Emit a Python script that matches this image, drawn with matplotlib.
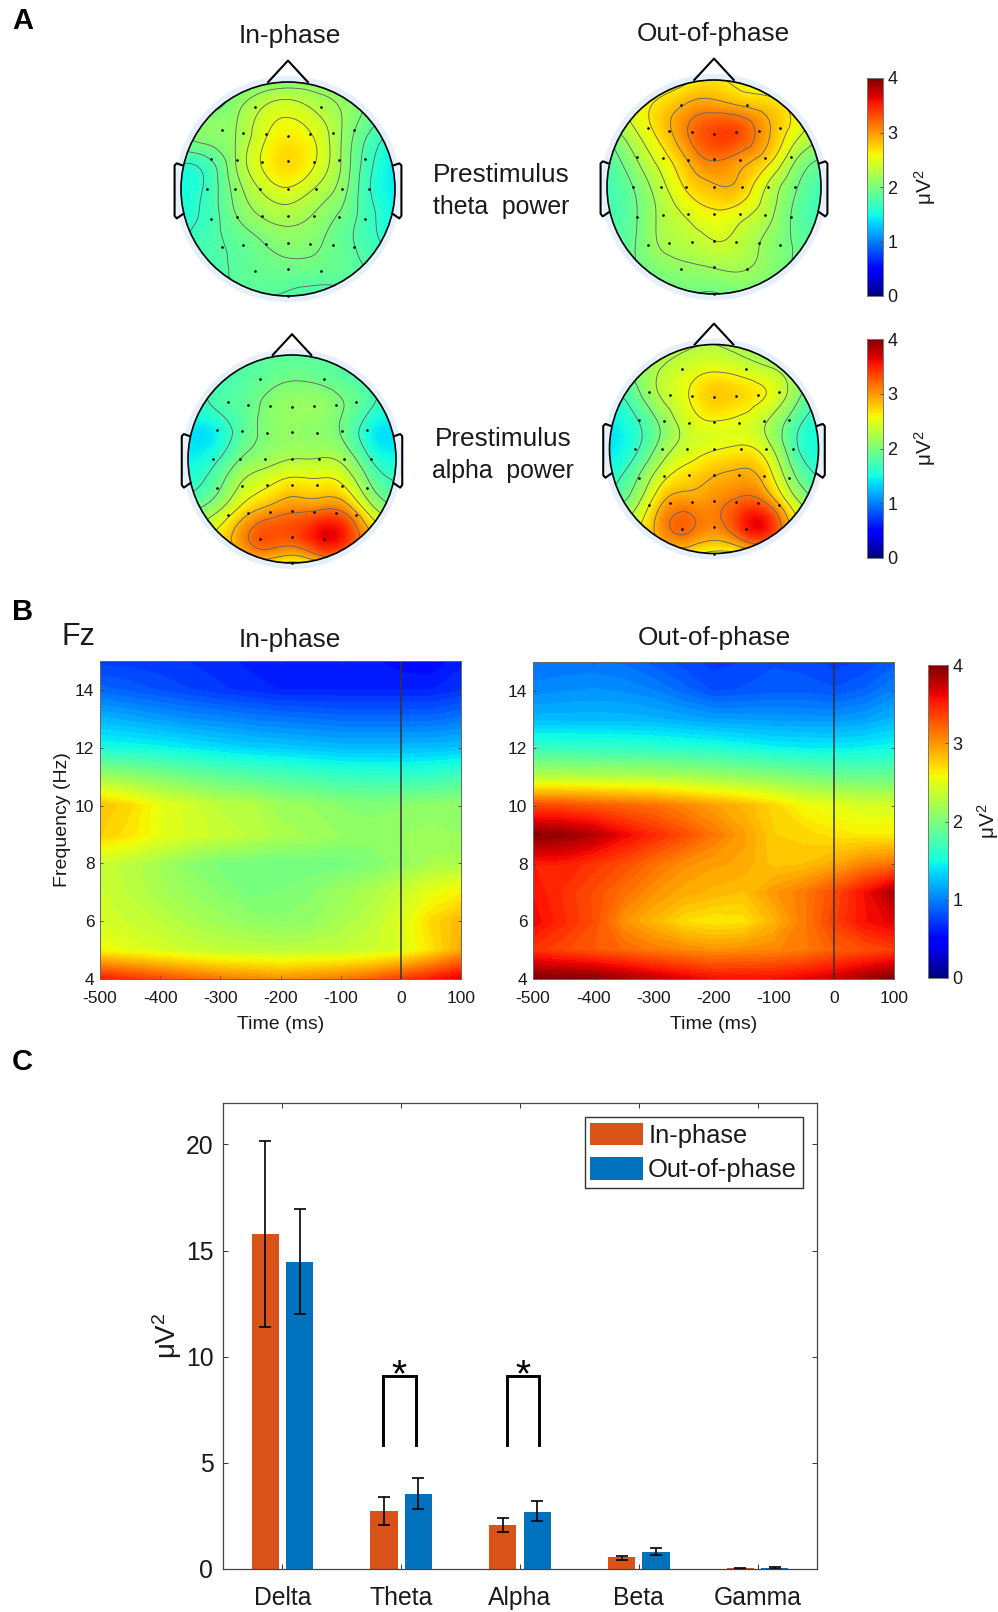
import numpy as np
import matplotlib
matplotlib.use("Agg")
import matplotlib.pyplot as plt
import matplotlib.tri as mtri
from matplotlib.cm import ScalarMappable
from matplotlib.colors import Normalize
from matplotlib.patches import Circle

plt.rcParams['font.family'] = ['Liberation Sans', 'DejaVu Sans']
plt.rcParams['mathtext.fontset'] = 'custom'
plt.rcParams['mathtext.rm'] = 'Liberation Sans'
plt.rcParams['mathtext.default'] = 'regular'
plt.rcParams['axes.unicode_minus'] = False

W, H = 998, 1612
UNIT = 'μV$^{2}$'
TEXT = '#1a1a1a'

# topomap values in μV², rows from the front of the head to the back
# nodes are at -1 ... 1 in steps of 0.25 in head coordinates
TOPO_GRID = [-1, -0.75, -0.5, -0.25, 0, 0.25, 0.5, 0.75, 1]

THETA_IN = [
    [1.80, 1.80, 1.90, 2.00, 2.05, 2.05, 2.00, 1.85, 1.70],
    [1.90, 1.95, 2.10, 2.34, 2.45, 2.32, 2.15, 1.95, 1.75],
    [2.00, 2.08, 2.15, 2.46, 2.62, 2.50, 2.16, 1.80, 1.55],
    [1.65, 1.75, 2.14, 2.53, 2.72, 2.53, 2.15, 1.70, 1.42],
    [1.50, 1.68, 2.05, 2.36, 2.50, 2.33, 2.08, 1.66, 1.42],
    [1.55, 1.70, 1.97, 2.17, 2.24, 2.14, 1.95, 1.70, 1.45],
    [1.60, 1.75, 1.85, 1.98, 2.07, 2.03, 1.88, 1.72, 1.50],
    [1.70, 1.75, 1.83, 1.90, 1.93, 1.92, 1.87, 1.80, 1.70],
    [1.75, 1.75, 1.80, 1.82, 1.78, 1.72, 1.75, 1.75, 1.75],
]
THETA_OUT = [
    [2.30, 2.35, 2.45, 2.60, 2.68, 2.55, 2.42, 2.30, 2.20],
    [2.35, 2.50, 2.72, 2.93, 3.00, 2.90, 2.78, 2.55, 2.30],
    [2.00, 2.35, 2.72, 3.10, 3.35, 3.30, 2.92, 2.52, 2.20],
    [1.78, 2.12, 2.50, 2.88, 3.12, 2.98, 2.72, 2.20, 1.92],
    [1.72, 1.95, 2.32, 2.68, 2.85, 2.80, 2.38, 1.98, 1.72],
    [1.72, 1.90, 2.22, 2.45, 2.60, 2.50, 2.25, 1.90, 1.70],
    [1.80, 1.92, 2.20, 2.30, 2.41, 2.32, 2.12, 1.92, 1.75],
    [1.85, 1.92, 2.05, 2.13, 2.18, 2.20, 2.08, 1.92, 1.80],
    [1.90, 1.90, 1.92, 1.95, 1.92, 1.98, 1.92, 1.90, 1.85],
]
ALPHA_IN = [
    [1.75, 1.80, 1.85, 1.85, 1.85, 1.85, 1.85, 1.80, 1.75],
    [1.60, 1.70, 1.80, 1.90, 1.98, 1.95, 1.85, 1.72, 1.60],
    [1.50, 1.70, 1.83, 2.03, 2.13, 2.12, 1.98, 1.72, 1.50],
    [1.42, 1.45, 1.80, 2.03, 2.12, 2.08, 1.93, 1.50, 1.42],
    [1.45, 1.62, 1.98, 2.15, 2.27, 2.28, 2.18, 1.70, 1.50],
    [1.60, 1.85, 2.28, 2.52, 2.68, 2.65, 2.55, 2.00, 1.72],
    [1.90, 2.20, 2.65, 2.95, 3.10, 3.16, 3.10, 2.45, 2.00],
    [2.20, 2.60, 3.00, 3.30, 3.30, 3.58, 3.50, 2.90, 2.40],
    [2.40, 2.50, 2.60, 2.70, 2.50, 2.75, 2.85, 2.80, 2.60],
]
ALPHA_OUT = [
    [2.15, 2.15, 2.20, 2.25, 2.28, 2.20, 2.10, 2.05, 2.00],
    [1.90, 2.05, 2.30, 2.45, 2.55, 2.48, 2.35, 2.15, 1.95],
    [1.60, 1.88, 2.30, 2.56, 2.78, 2.72, 2.56, 2.15, 1.72],
    [1.42, 1.65, 2.05, 2.42, 2.55, 2.50, 2.28, 1.85, 1.55],
    [1.42, 1.65, 2.12, 2.42, 2.55, 2.62, 2.42, 1.82, 1.52],
    [1.55, 1.92, 2.45, 2.70, 2.85, 2.92, 2.72, 2.05, 1.68],
    [1.85, 2.18, 2.82, 3.00, 3.04, 3.22, 3.10, 2.42, 1.95],
    [2.20, 2.50, 3.02, 3.20, 3.06, 3.40, 3.55, 2.80, 2.35],
    [2.50, 2.60, 2.70, 2.65, 2.50, 2.55, 2.70, 2.70, 2.50],
]
THETA_IN_LEVELS = [1.63, 1.81, 1.99, 2.16, 2.34, 2.52]
THETA_OUT_LEVELS = [1.94, 2.17, 2.41, 2.64, 2.88, 3.11]
ALPHA_IN_LEVELS = [1.69, 1.98, 2.27, 2.56, 2.85, 3.14]
ALPHA_OUT_LEVELS = [1.70, 1.99, 2.28, 2.57, 2.86, 3.15]

# electrode sites in head coordinates
ELEC_X = [-0.31, 0.31,
          -0.62, -0.42, -0.21, 0, 0.21, 0.42, 0.62,
          -0.72, -0.48, -0.24, 0, 0.24, 0.48, 0.72,
          -0.76, -0.50, -0.26, 0, 0.26, 0.50, 0.76,
          -0.72, -0.48, -0.24, 0, 0.24, 0.48, 0.72,
          -0.62, -0.42, -0.21, 0, 0.21, 0.42, 0.62,
          -0.31, 0, 0.31, 0]
ELEC_Y = [0.77, 0.77,
          0.55, 0.52, 0.51, 0.50, 0.51, 0.52, 0.55,
          0.28, 0.27, 0.25, 0.26, 0.25, 0.27, 0.28,
          0, 0, 0, 0, 0, 0, 0,
          -0.28, -0.26, -0.25, -0.25, -0.25, -0.26, -0.28,
          -0.54, -0.52, -0.51, -0.50, -0.51, -0.52, -0.54,
          -0.77, -0.75, -0.77, -1.0]

# time-frequency power at Fz in μV²
TF_TIMES = [-500, -450, -400, -350, -300, -250, -200, -150, -100, -50, 0, 50, 100]
TF_FREQS = [15, 14, 13, 12, 11, 10, 9, 8, 7, 6, 5, 4]
TF_IN = [
    [0.72, 0.72, 0.70, 0.68, 0.65, 0.60, 0.57, 0.60, 0.62, 0.58, 0.52, 0.50, 0.60],
    [0.90, 0.85, 0.80, 0.75, 0.70, 0.66, 0.62, 0.62, 0.62, 0.62, 0.62, 0.62, 0.68],
    [1.20, 1.15, 1.10, 1.05, 1.02, 0.98, 0.95, 0.93, 0.90, 0.90, 0.90, 0.90, 0.95],
    [1.50, 1.48, 1.45, 1.40, 1.35, 1.30, 1.28, 1.25, 1.22, 1.22, 1.22, 1.23, 1.25],
    [2.15, 2.08, 2.00, 1.92, 1.85, 1.80, 1.75, 1.70, 1.65, 1.63, 1.62, 1.65, 1.70],
    [2.80, 2.70, 2.50, 2.40, 2.30, 2.27, 2.15, 2.12, 2.05, 2.03, 2.05, 2.08, 2.10],
    [2.75, 2.65, 2.50, 2.42, 2.35, 2.30, 2.22, 2.18, 2.12, 2.10, 2.12, 2.15, 2.12],
    [2.35, 2.28, 2.18, 2.05, 1.98, 1.95, 1.93, 1.95, 1.95, 2.00, 2.10, 2.20, 2.22],
    [2.38, 2.30, 2.20, 2.12, 2.05, 1.97, 2.00, 2.05, 2.15, 2.22, 2.35, 2.50, 2.60],
    [2.42, 2.36, 2.30, 2.22, 2.15, 2.10, 2.07, 2.10, 2.20, 2.30, 2.45, 2.70, 2.85],
    [2.55, 2.48, 2.42, 2.36, 2.32, 2.30, 2.28, 2.30, 2.32, 2.36, 2.45, 2.65, 2.90],
    [3.50, 3.40, 3.30, 3.20, 3.10, 3.05, 3.00, 3.05, 3.10, 3.20, 3.35, 3.50, 3.65],
]
TF_OUT = [
    [0.95, 0.95, 0.95, 0.92, 0.85, 0.78, 0.72, 0.75, 0.80, 0.78, 0.72, 0.75, 0.85],
    [1.02, 1.05, 1.07, 1.05, 1.00, 0.90, 0.80, 0.82, 0.85, 0.85, 0.82, 0.88, 1.00],
    [1.22, 1.22, 1.22, 1.22, 1.20, 1.16, 1.12, 1.11, 1.10, 1.09, 1.08, 1.12, 1.20],
    [1.65, 1.64, 1.63, 1.62, 1.60, 1.58, 1.55, 1.50, 1.45, 1.43, 1.42, 1.44, 1.48],
    [2.28, 2.27, 2.26, 2.25, 2.24, 2.20, 2.15, 2.10, 2.05, 1.98, 1.92, 1.90, 1.90],
    [3.30, 3.30, 3.25, 3.20, 3.15, 3.05, 2.95, 2.85, 2.72, 2.55, 2.50, 2.42, 2.42],
    [3.95, 3.90, 3.80, 3.60, 3.45, 3.30, 3.12, 2.95, 2.75, 2.72, 2.65, 2.62, 2.62],
    [3.50, 3.50, 3.40, 3.30, 3.15, 3.02, 2.95, 2.92, 2.78, 2.80, 2.90, 3.05, 3.12],
    [3.55, 3.42, 3.30, 3.15, 3.00, 2.90, 2.85, 2.80, 2.98, 3.10, 3.30, 3.55, 3.85],
    [3.60, 3.45, 3.30, 3.00, 2.85, 2.68, 2.62, 2.65, 2.85, 3.10, 3.35, 3.55, 3.65],
    [3.40, 3.32, 3.25, 3.18, 3.10, 3.05, 3.00, 3.02, 3.05, 3.10, 3.22, 3.28, 3.35],
    [4.00, 3.98, 3.95, 3.85, 3.75, 3.65, 3.55, 3.55, 3.55, 3.62, 3.70, 3.85, 4.00],
]

# band power
BANDS = ['Delta', 'Theta', 'Alpha', 'Beta', 'Gamma']
IN_MEAN = [15.8, 2.71, 2.05, 0.55, 0.03]
IN_LOW = [11.4, 2.09, 1.73, 0.44, 0.01]
IN_HIGH = [20.15, 3.39, 2.42, 0.61, 0.05]
OUT_MEAN = [14.46, 3.55, 2.68, 0.82, 0.06]
OUT_LOW = [12.0, 2.82, 2.24, 0.66, 0.02]
OUT_HIGH = [16.94, 4.27, 3.18, 0.97, 0.09]
SIG_BANDS = [1.985, 3.025]


def px_axes(fig, left, top, right, bottom):
    return fig.add_axes([left / W, 1 - bottom / H, (right - left) / W, (bottom - top) / H])


def draw_topo(fig, cx, cy, r, values, levels):
    ax = px_axes(fig, cx - 1.25 * r, cy - 1.25 * r, cx + 1.25 * r, cy + 1.25 * r)
    ax.set_xlim(-1.25, 1.25)
    ax.set_ylim(-1.25, 1.25)
    ax.axis('off')

    ax.add_patch(Circle((0, 0), 1.058, facecolor='#e6f0fb', edgecolor='none', zorder=0))
    clip = Circle((0, 0), 1.0, facecolor='none', edgecolor='none', transform=ax.transData)
    ax.add_patch(clip)

    xx, yy = np.meshgrid(TOPO_GRID, TOPO_GRID[::-1])
    tri = mtri.Triangulation(xx.ravel(), yy.ravel())
    refiner = mtri.UniformTriRefiner(tri)
    fine_tri, fine_z = refiner.refine_field(np.array(values).ravel(), subdiv=3)

    im = ax.tripcolor(fine_tri, fine_z, shading='gouraud', cmap='jet', vmin=0, vmax=4, zorder=1)
    im.set_clip_path(clip)
    cs = ax.tricontour(fine_tri, fine_z, levels=levels, colors='#666666', linewidths=0.65, zorder=2)
    cs.set_clip_path(clip)

    ax.plot(ELEC_X, ELEC_Y, linestyle='none', marker='o', ms=0.9, color='black', zorder=3)
    ax.add_patch(Circle((0, 0), 1.0, facecolor='none', edgecolor='black', lw=1.2, zorder=4))

    # nose and ears
    ax.plot([-0.185, 0, 0.185], [1.0, 1.2, 1.0], color='black', lw=1.5, zorder=4)
    ear_x = np.array([0.985, 1.04, 1.06, 1.06, 1.04, 0.975])
    ear_y = [0.22, 0.24, 0.22, -0.25, -0.275, -0.23]
    ax.plot(ear_x, ear_y, color='black', lw=1.5, zorder=4)
    ax.plot(-ear_x, ear_y, color='black', lw=1.5, zorder=4)


def draw_cbar(fig, left, top, right, bottom, label_x):
    cax = px_axes(fig, left, top, right, bottom)
    sm = ScalarMappable(norm=Normalize(0, 4), cmap='jet')
    cb = fig.colorbar(sm, cax=cax, ticks=[0, 1, 2, 3, 4])
    cb.outline.set_edgecolor('#777777')
    cb.outline.set_linewidth(0.7)
    cax.tick_params(direction='in', length=2, width=0.6, color='#444444', labelsize=13,
                    labelcolor=TEXT, pad=3)
    fig.text(label_x / W, 1 - (top + bottom) / 2 / H, UNIT, rotation=90, fontsize=15,
             color=TEXT, ha='center', va='center')


def draw_tf(fig, left, top, right, bottom, values, show_ylabel):
    ax = px_axes(fig, left, top, right, bottom)
    levels = np.linspace(0, 4, 65)
    cs = ax.contourf(TF_TIMES, TF_FREQS, values, levels=levels, cmap='jet', extend='both')
    cs.set_edgecolor('face')
    ax.axvline(0, color='#333333', lw=1.1)
    ax.set_xlim(-500, 100)
    ax.set_ylim(4, 15)
    ax.set_xticks([-500, -400, -300, -200, -100, 0, 100])
    ax.set_yticks([4, 6, 8, 10, 12, 14])
    ax.tick_params(direction='in', length=2.5, width=0.6, color='#444444', top=True, right=True,
                   labelsize=12.5, labelcolor=TEXT, pad=4)
    ax.tick_params(axis='x', pad=8.4)
    for spine in ax.spines.values():
        spine.set_color('#666666')
        spine.set_linewidth(0.7)
    ax.set_xlabel('Time (ms)', fontsize=14, color=TEXT, labelpad=7.5)
    if show_ylabel:
        ax.set_ylabel('Frequency (Hz)', fontsize=14, color=TEXT, labelpad=3)


def draw_bars(fig):
    ax = px_axes(fig, 223, 1103, 817, 1569)
    x = np.arange(1, len(BANDS) + 1)
    off = 0.145
    width = 0.23
    ax.bar(x - off, IN_MEAN, width, color='#D95319', label='In-phase')
    ax.bar(x + off, OUT_MEAN, width, color='#0072BD', label='Out-of-phase')

    for xs, mean, low, high in [(x - off, IN_MEAN, IN_LOW, IN_HIGH), (x + off, OUT_MEAN, OUT_LOW, OUT_HIGH)]:
        err = [np.array(mean) - np.array(low), np.array(high) - np.array(mean)]
        ax.errorbar(xs, mean, yerr=err, fmt='none', ecolor='black', elinewidth=1.2,
                    capsize=4, capthick=1.2)

    # significance brackets
    for pos in SIG_BANDS:
        ax.plot([pos - 0.138, pos - 0.138, pos + 0.138, pos + 0.138], [5.85, 9.08, 9.08, 5.85],
                color='black', lw=2.1, solid_joinstyle='miter')
        ax.text(pos, 8.62, '*', fontsize=28, ha='center', va='baseline', color='black')

    ax.set_xlim(0.5, 5.5)
    ax.set_ylim(0, 21.95)
    ax.set_xticks(x)
    ax.set_xticklabels(BANDS)
    ax.set_yticks([0, 5, 10, 15, 20])
    ax.tick_params(direction='in', length=3.5, width=0.7, color='#333333', top=True, right=True,
                   labelsize=17.8, labelcolor=TEXT)
    ax.tick_params(axis='x', pad=12)
    ax.tick_params(axis='y', pad=7)
    for spine in ax.spines.values():
        spine.set_color('#444444')
        spine.set_linewidth(0.9)
    ax.legend(loc='upper right', bbox_to_anchor=(0.976, 0.97), borderaxespad=0, fontsize=18.4,
              fancybox=False, framealpha=1, edgecolor='#333333', handlelength=2.07, handleheight=1.0,
              labelspacing=0.36, handletextpad=0.2, borderpad=0.22, labelcolor=TEXT)
    fig.text(167 / W, 1 - 1336 / H, UNIT, rotation=90, fontsize=20, color=TEXT, ha='center', va='center')


def px_text(fig, x, y, s, **kw):
    fig.text(x / W, 1 - y / H, s, color=kw.pop('color', TEXT), **kw)


fig = plt.figure(figsize=(W / 100, H / 100), dpi=100)

draw_topo(fig, 288, 189, 107, THETA_IN, THETA_IN_LEVELS)
draw_topo(fig, 714, 187, 107, THETA_OUT, THETA_OUT_LEVELS)
draw_topo(fig, 292, 459, 104, ALPHA_IN, ALPHA_IN_LEVELS)
draw_topo(fig, 714, 449, 104.5, ALPHA_OUT, ALPHA_OUT_LEVELS)

draw_cbar(fig, 867, 78, 883, 296, 925)
draw_cbar(fig, 867, 339, 883, 558, 925)

draw_tf(fig, 100, 661, 461, 979, TF_IN, True)
draw_tf(fig, 533, 662, 894, 979, TF_OUT, False)
draw_cbar(fig, 928, 665, 948, 978, 988)

draw_bars(fig)

title = dict(fontsize=18.9, ha='center', va='baseline')
second = dict(fontsize=17.9, ha='center', va='baseline')
px_text(fig, 290, 43, 'In-phase', **title)
px_text(fig, 713, 41, 'Out-of-phase', **title)
px_text(fig, 290, 647, 'In-phase', **title)
px_text(fig, 714, 645, 'Out-of-phase', **title)
px_text(fig, 501, 182, 'Prestimulus', **title)
px_text(fig, 501, 214, 'theta  power', **second)
px_text(fig, 503, 446, 'Prestimulus', **title)
px_text(fig, 503, 478, 'alpha  power', **second)
px_text(fig, 62, 645, 'Fz', fontsize=22, ha='left', va='baseline')

panel = dict(fontsize=21, fontweight='bold', ha='left', va='baseline', color='black')
px_text(fig, 12, 29, 'A', **panel)
px_text(fig, 12, 620, 'B', **panel)
px_text(fig, 12, 1070, 'C', **panel)

fig.savefig('out.png', dpi=100)
plt.close(fig)
